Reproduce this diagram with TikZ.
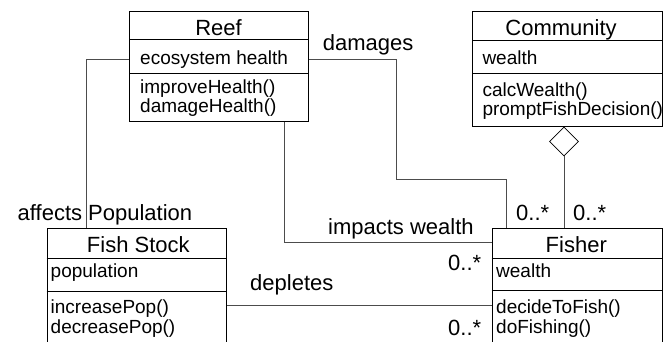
\documentclass[tikz,border=0pt]{standalone}
\usepackage{fontspec}
\setmainfont{Liberation Sans}
\usetikzlibrary{shapes.geometric}
\begin{document}
\begin{tikzpicture}[x=1pt,y=-1pt,
  classbox/.style={draw=black,line width=0.9pt,inner sep=0pt,anchor=north west},
  sep/.style={draw=black,line width=0.9pt},
  link/.style={draw=black!70,line width=0.9pt},
  title/.style={font=\fontsize{22}{24}\selectfont,anchor=base,inner sep=0pt},
  member/.style={font=\fontsize{19}{19}\selectfont,anchor=base west,inner sep=0pt},
  role/.style={font=\fontsize{22}{24}\selectfont,anchor=base west,inner sep=0pt}]
\useasboundingbox (0,0) rectangle (663,341);

% class boxes
\node[classbox,minimum width=179pt,minimum height=110.3pt] (reef) at (129,10.7) {};
\node[classbox,minimum width=189.5pt,minimum height=115pt] (community) at (472.3,10.7) {};
\node[classbox,minimum width=179.3pt,minimum height=130pt] (fishstock) at (46.7,228) {};
\node[classbox,minimum width=170pt,minimum height=130pt] (fisher) at (491.7,228.3) {};

% compartment separators
\draw[sep] (reef.west |- 0,39.3) -- (reef.east |- 0,39.3);
\draw[sep] (reef.west |- 0,73.3) -- (reef.east |- 0,73.3);
\draw[sep] (community.west |- 0,40) -- (community.east |- 0,40);
\draw[sep] (community.west |- 0,73) -- (community.east |- 0,73);
\draw[sep] (fishstock.west |- 0,258) -- (fishstock.east |- 0,258);
\draw[sep] (fishstock.west |- 0,291) -- (fishstock.east |- 0,291);
\draw[sep] (fisher.west |- 0,258.3) -- (fisher.east |- 0,258.3);
\draw[sep] (fisher.west |- 0,290.7) -- (fisher.east |- 0,290.7);

% class contents
\node[title] (reeft) at (218.5,35) {Reef};
\node[member] (reefa) at (140,64.3) {ecosystem health};
\node[member] (reefm1) at (140,93.3) {improveHealth()};
\node[member] (reefm2) at (140,112.3) {damageHealth()};

\node[title] (commt) at (561,35.5) {Community};
\node[member] (comma) at (482.3,64.5) {wealth};
\node[member] (commm1) at (482.3,96.5) {calcWealth()};
\node[member] (commm2) at (482.3,115.5) {promptFishDecision()};

\node[title] (fisht) at (138.3,252) {Fish Stock};
\node[member] (fisha) at (50.5,277.5) {population};
\node[member] (fishm1) at (50.5,313.5) {increasePop()};
\node[member] (fishm2) at (50.5,333) {decreasePop()};

\node[title] (fishert) at (576.3,252) {Fisher};
\node[member] (fishera) at (496,277.5) {wealth};
\node[member] (fisherm1) at (496,313.5) {decideToFish()};
\node[member] (fisherm2) at (496,333) {doFishing()};

% aggregation diamond
\node[draw=black,line width=0.8pt,diamond,aspect=1,minimum width=29pt,minimum height=29pt,inner sep=0pt,anchor=north,fill=white] (agg) at (community.south -| 564,0) {};

% associations
\draw[link] (reef.west |- 0,59.3) -| (fishstock.north -| 86,0);
\draw[link] (reef.south -| 284,0) |- (fisher.west |- 0,242.5);
\draw[link] (reef.east |- 0,59.3) -| (396,179.3) -| (fisher.north -| 506,0);
\draw[link] (agg.south) -- (agg.south |- fisher.north);
\draw[link] (fishstock.east |- 0,305.3) -- (fisher.west |- 0,305.3);

% association labels and multiplicities
\node[role] (lblaffects) at (17.5,220) {affects Population};
\node[role] (lbldamages) at (322.7,50) {damages};
\node[role] (lblimpacts) at (328,234) {impacts wealth};
\node[role] (mult1) at (516,220) {0..*};
\node[role] (mult2) at (573,220) {0..*};
\node[role] (mult3) at (448,270) {0..*};
\node[role] (lbldepletes) at (250,290.7) {depletes};
\node[role] (mult4) at (448,335.7) {0..*};
\end{tikzpicture}
\end{document}
